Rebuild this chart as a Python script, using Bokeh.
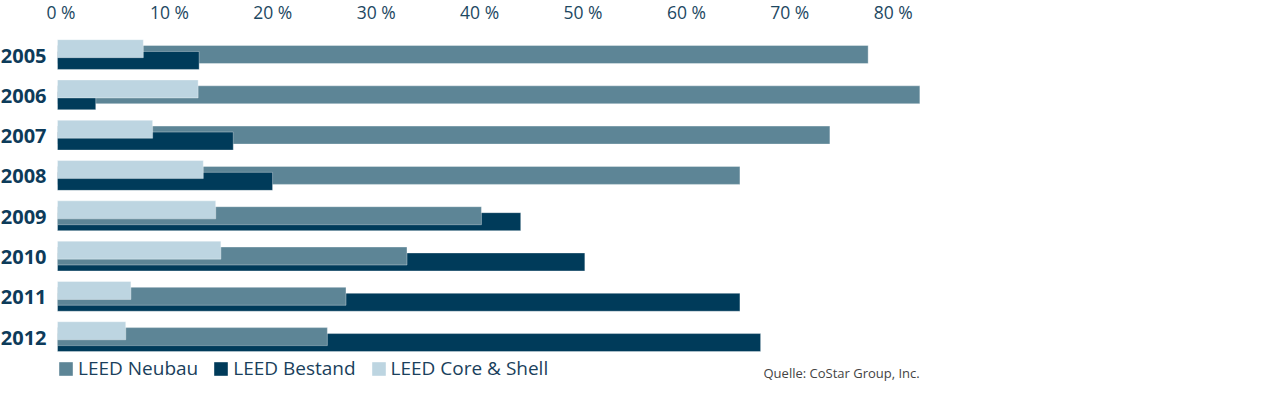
from bokeh.plotting import figure
from bokeh.models import Range1d, ColumnDataSource, Legend, LegendItem, Label
from bokeh.core.properties import value
from bokeh.embed import file_html
from bokeh.resources import INLINE

# ---------------- data ----------------
years = ["2005", "2006", "2007", "2008", "2009", "2010", "2011", "2012"]
neubau = [78.4, 83.4, 74.7, 66.0, 41.0, 33.8, 27.9, 26.1]
bestand = [13.7, 3.7, 17.0, 20.8, 44.8, 51.0, 66.0, 68.0]
core_shell = [8.3, 13.6, 9.2, 14.1, 15.3, 15.8, 7.1, 6.6]
series_names = ["LEED Neubau", "LEED Bestand", "LEED Core & Shell"]
tick_values = [0, 10, 20, 30, 40, 50, 60, 70, 80]
tick_labels = ["0 %", "10 %", "20 %", "30 %", "40 %", "50 %", "60 %", "70 %", "80 %"]
source_note = "Quelle: CoStar Group, Inc."

# ---------------- styling / layout ----------------
colors = ["#5d8596", "#003b5a", "#bdd5e1"]
offsets = [0.0, 0.148, -0.145]
W, H = 1247, 382
PX_PER_PCT = 10.34
PX_PER_ROW = 40.3
X0 = 57      # px of 0 % inside figure
ROW0 = 54    # px of first row centre inside figure
BAR_H = 18 / PX_PER_ROW
TEXT_NAVY = "#0d3b5a"

x_range = Range1d(-X0 / PX_PER_PCT, -X0 / PX_PER_PCT + W / PX_PER_PCT)
y_range = Range1d(start=(H - ROW0) / PX_PER_ROW, end=-ROW0 / PX_PER_ROW)

p = figure(width=W, height=H, x_range=x_range, y_range=y_range,
           output_backend="svg", toolbar_location=None, min_border=0,
           outline_line_color=None, background_fill_color="white",
           border_fill_color="white")
p.axis.visible = False
p.grid.visible = False

vals = [neubau, bestand, core_shell]
layers = [dict(y=[], right=[], color=[]) for _ in range(3)]
for i in range(len(years)):
    # Neubau / Bestand: larger drawn first; Core & Shell always on top
    order = sorted([0, 1], key=lambda s: -vals[s][i]) + [2]
    for rank, s in enumerate(order):
        layers[rank]["y"].append(i + offsets[s])
        layers[rank]["right"].append(vals[s][i])
        layers[rank]["color"].append(colors[s])

for L in layers:
    p.hbar(y="y", left=0, right="right", height=BAR_H, fill_color="color",
           line_color="white", line_alpha=0.35, line_width=1,
           source=ColumnDataSource(L))

# legend via zero-width proxy renderers (only used for the legend swatches)
items = []
for name, c in zip(series_names, colors):
    r = p.hbar(y=[-20], left=[0], right=[0], height=BAR_H, fill_color=c,
               line_color=None)
    items.append(LegendItem(label=name, renderers=[r]))
legend = Legend(items=items, orientation="horizontal", location=(57, 1),
                glyph_width=17, glyph_height=17, label_standoff=4, spacing=14,
                padding=0, margin=0, border_line_color=None,
                background_fill_alpha=0, label_height=19,
                label_text_font="Open Sans", label_text_font_size="19px",
                label_text_color="#1a3f5c", label_text_baseline="middle")
p.add_layout(legend)

# top tick labels
TOP_Y = (11 - ROW0) / PX_PER_ROW
p.text(x=tick_values, y=[TOP_Y] * len(tick_values), text=tick_labels,
       x_offset=-11, text_align="left", text_baseline="middle",
       text_font=value("Open Sans"), text_font_size="17.5px",
       text_color="#1d4862")

# year labels
p.text(x=[0] * len(years), y=list(range(len(years))), text=years,
       x_offset=-11, y_offset=1, text_align="right", text_baseline="middle",
       text_font=value("Open Sans"), text_font_style="bold",
       text_font_size="20px", text_color=TEXT_NAVY)

p.add_layout(Label(x=763, y=10, x_units="screen", y_units="screen",
                   text=source_note, text_font="Open Sans",
                   text_font_size="13px", text_color="#444444",
                   text_baseline="middle"))

open("out.html", "w").write(file_html(p, INLINE))
